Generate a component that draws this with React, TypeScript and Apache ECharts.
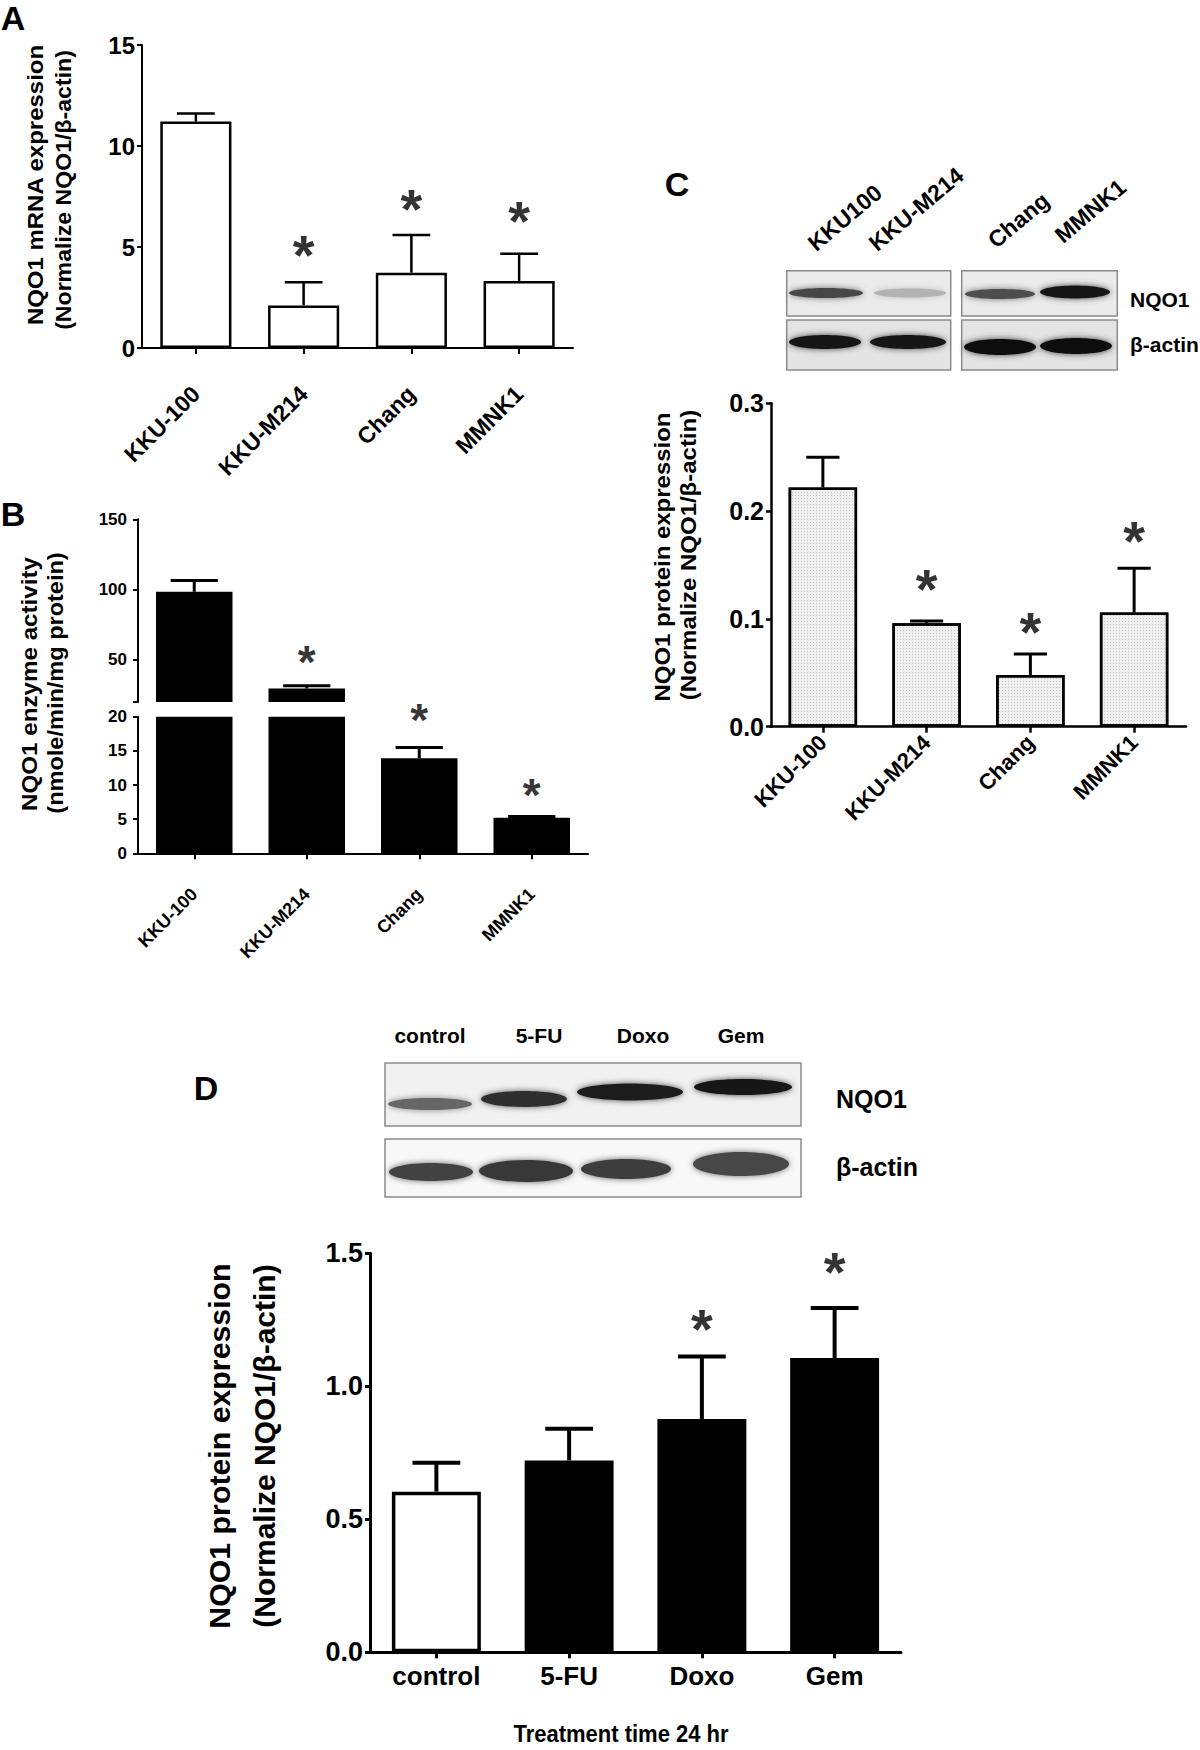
import React, { useEffect, useRef } from 'react';
import * as echarts from 'echarts';

// ---------- data ----------
const cellLines = ['KKU-100', 'KKU-M214', 'Chang', 'MMNK1'];

// Panel A: NQO1 mRNA expression
const mrnaMean = [11.21, 2.11, 3.73, 3.32];
const mrnaSem = [0.4, 1.14, 1.86, 1.34];
const mrnaStar = [null, 5.2, 7.5, 6.9];

// Panel B: NQO1 enzyme activity (broken axis 0-20 / 20-150)
const enzymeMean = [98.4, 29.6, 13.9, 5.2];
const enzymeSem = [8.0, 1.9, 1.6, 0.2];
const enzymeStar = [null, 55.9, 21.0, 10.0];
const enzymeUpperTicks = [20, 50, 100, 150];
const enzymeUpperLabels = [50, 100, 150];

// Panel C: NQO1 protein expression (cell lines)
const proteinMean = [0.222, 0.096, 0.048, 0.106];
const proteinSem = [0.028, 0.002, 0.0195, 0.041];
const proteinStar = [null, 0.139, 0.099, 0.184];

// Panel D: NQO1 protein after treatment
const treatments = ['control', '5-FU', 'Doxo', 'Gem'];
const treatMean = [0.604, 0.721, 0.877, 1.106];
const treatSem = [0.109, 0.119, 0.235, 0.188];
const treatStar = [null, null, 1.263, 1.476];

// Western blot lanes (band darkness 0..1)
const blotCLanes = ['KKU100', 'KKU-M214', 'Chang', 'MMNK1'];
const blotCNqo1 = [0.72, 0.3, 0.7, 0.9];
const blotCActin = [0.93, 0.9, 0.96, 0.95];
const blotDNqo1 = [0.6, 0.82, 0.88, 0.93];
const blotDActin = [0.74, 0.78, 0.76, 0.72];

// ---------- styling / layout ----------
const FONT = "'Liberation Sans', Arial, Helvetica, sans-serif";
const dFill = ['#ffffff', '#000000', '#000000', '#000000'];

const makeErr = (xi: number, yi: number, means: number[], sems: number[], lw: number, capFrac: number, keep: (m: number, e: number) => boolean) => ({
  type: 'custom',
  xAxisIndex: xi,
  yAxisIndex: yi,
  z: 5,
  silent: true,
  clip: false,
  encode: { x: 0, y: 1 },
  data: means.map((m, i) => [i, m, sems[i]]).filter((d) => keep(d[1], d[2])),
  renderItem: (params: any, api: any) => {
    const i = api.value(0);
    const m = api.value(1);
    const e = api.value(2);
    const p0 = api.coord([i, m]);
    const p1 = api.coord([i, m + e]);
    const half = (api.size([1, 0])[0] * capFrac) / 2;
    const style = { stroke: '#000', lineWidth: lw };
    return {
      type: 'group',
      children: [
        { type: 'line', shape: { x1: p0[0], y1: p0[1], x2: p1[0], y2: p1[1] }, style },
        { type: 'line', shape: { x1: p1[0] - half, y1: p1[1], x2: p1[0] + half, y2: p1[1] }, style },
      ],
    };
  },
});

const makeStars = (xi: number, yi: number, stars: (number | null)[], fs: number) => ({
  type: 'scatter',
  xAxisIndex: xi,
  yAxisIndex: yi,
  symbolSize: 1,
  itemStyle: { color: 'rgba(0,0,0,0)' },
  clip: false,
  silent: true,
  z: 6,
  label: {
    show: true,
    position: 'inside',
    formatter: '*',
    fontSize: fs,
    fontWeight: 'bold',
    fontFamily: FONT,
    color: '#000',
    offset: [0, Math.round(fs * 0.21)],
  },
  data: stars.map((s, i) => (s == null ? null : [i, s])).filter((d) => d !== null),
});

const catAxis = (gi: number, data: string[], lw: number, label: any, show = true) => ({
  gridIndex: gi,
  type: 'category',
  data,
  show,
  axisLine: { show: true, onZero: false, lineStyle: { color: '#000', width: lw } },
  axisTick: { show: true, alignWithLabel: true, length: 6, lineStyle: { color: '#000', width: lw } },
  axisLabel: { interval: 0, color: '#000', fontWeight: 'bold', fontFamily: FONT, ...label },
  splitLine: { show: false },
});

const valAxis = (gi: number, lw: number, extra: any, label: any) => ({
  gridIndex: gi,
  type: 'value',
  axisLine: { show: true, lineStyle: { color: '#000', width: lw } },
  axisTick: { show: true, length: 5, lineStyle: { color: '#000', width: lw } },
  splitLine: { show: false },
  axisLabel: { color: '#000', fontWeight: 'bold', fontFamily: FONT, ...label },
  ...extra,
});

const txt = (x: number, y: number, text: string, fs: number, opts: any = {}) => ({
  type: 'text',
  x,
  y,
  silent: true,
  rotation: opts.rotation || 0,
  scaleX: opts.scaleX || 1,
  scaleY: opts.scaleY || 1,
  style: {
    text,
    fill: '#000',
    fontSize: fs,
    fontWeight: opts.weight || 'bold',
    fontFamily: FONT,
    align: opts.align || 'center',
    verticalAlign: 'middle',
  },
});

const gray = (v: number) => {
  const g = Math.round(255 * (1 - v));
  return `rgb(${g},${g},${g})`;
};

const band = (cx: number, cy: number, rx: number, ry: number, dark: number) => ({
  type: 'ellipse',
  silent: true,
  shape: { cx, cy, rx, ry },
  style: { fill: gray(dark), shadowBlur: 6, shadowColor: gray(dark * 0.8) },
});

const box = (x: number, y: number, w: number, h: number, fill: string) => ({
  type: 'rect',
  silent: true,
  shape: { x, y, width: w, height: h },
  style: { fill, stroke: '#8a8a8a', lineWidth: 1.5 },
});

// blot geometry (layout only)
const cNqoGeo = [[826, 293, 37, 5], [910, 293, 36, 4.5], [1000, 294, 35, 5], [1075, 292, 35, 6.5]];
const cActGeo = [[825, 342, 36, 7], [908, 342, 38, 7], [1000, 347, 36, 8], [1076, 346, 36, 8]];
const dNqoGeo = [[430, 1104, 42, 6], [524, 1099, 43, 8], [630, 1092, 53, 8.5], [743, 1087, 49, 8]];
const dActGeo = [[431, 1172, 42, 9], [526, 1171, 47, 11], [626, 1169, 45, 10], [741, 1164, 48, 12]];
const cLabelPos = [[811, 246], [872, 246], [991, 243], [1058, 238]];
const dLabelX = [430, 539, 643, 741];

const graphics: any[] = [
  // panel letters
  txt(13, 18, 'A', 34),
  txt(13, 514, 'B', 34),
  txt(677, 184, 'C', 34),
  txt(206, 1088, 'D', 34),
  // y titles
  txt(35, 185, 'NQO1 mRNA expression', 22, { rotation: Math.PI / 2, scaleX: 1.09 }),
  txt(64, 190, '(Normalize NQO1/β-actin)', 22, { rotation: Math.PI / 2, scaleX: 1.05 }),
  txt(29, 684, 'NQO1 enzyme activity', 22, { rotation: Math.PI / 2, scaleX: 1.1 }),
  txt(55, 683, '(nmole/min/mg protein)', 22, { rotation: Math.PI / 2, scaleX: 1.07 }),
  txt(662, 557, 'NQO1 protein expression', 22, { rotation: Math.PI / 2, scaleX: 1.09 }),
  txt(688, 555, '(Normalize NQO1/β-actin)', 22, { rotation: Math.PI / 2, scaleX: 1.09 }),
  txt(220, 1446, 'NQO1 protein expression', 30, { rotation: Math.PI / 2, scaleX: 1.01 }),
  txt(264, 1446, '(Normalize NQO1/β-actin)', 30, { rotation: Math.PI / 2, scaleX: 1.0 }),
  txt(621, 1734, 'Treatment time 24 hr', 22, { scaleY: 1.05 }),
  // blot C
  box(786.7, 270.7, 164, 45.3, '#ebebeb'),
  box(961.7, 270.7, 155.6, 45.3, '#ebebeb'),
  box(786.7, 320, 164, 50, '#e4e4e4'),
  box(961.7, 320, 155.6, 50, '#e4e4e4'),
  ...cNqoGeo.map((g, i) => band(g[0], g[1], g[2], g[3], blotCNqo1[i])),
  ...cActGeo.map((g, i) => band(g[0], g[1], g[2], g[3], blotCActin[i])),
  ...blotCLanes.map((l, i) => txt(cLabelPos[i][0], cLabelPos[i][1], l, 23, { rotation: (40 * Math.PI) / 180, align: 'left' })),
  txt(1130, 299, 'NQO1', 21, { align: 'left' }),
  txt(1130, 344, 'β-actin', 21, { align: 'left' }),
  // blot D
  box(385, 1063, 416, 63, '#f1f1f1'),
  box(385, 1139, 416, 58, '#f8f8f8'),
  ...dNqoGeo.map((g, i) => band(g[0], g[1], g[2], g[3], blotDNqo1[i])),
  ...dActGeo.map((g, i) => band(g[0], g[1], g[2], g[3], blotDActin[i])),
  ...treatments.map((t, i) => txt(dLabelX[i], 1035, t, 21)),
  txt(836, 1099, 'NQO1', 25, { align: 'left' }),
  txt(836, 1167, 'β-actin', 25, { align: 'left' }),
];

const option: any = {
  animation: false,
  backgroundColor: '#ffffff',
  grid: [
    { left: 142, top: 45, width: 431, height: 303, outerBoundsMode: 'none' },
    { left: 138, top: 519.3, width: 450, height: 182.7, outerBoundsMode: 'none' },
    { left: 138, top: 716.7, width: 450, height: 136.6, outerBoundsMode: 'none' },
    { left: 771, top: 403.3, width: 415, height: 323.4, outerBoundsMode: 'none' },
    { left: 370, top: 1253.3, width: 531, height: 399, outerBoundsMode: 'none' },
  ],
  xAxis: [
    catAxis(0, cellLines, 2, { rotate: 45, fontSize: 23, margin: 42 }),
    catAxis(1, cellLines, 2, {}, false),
    catAxis(2, cellLines, 2, { rotate: 45, fontSize: 18, margin: 38 }),
    catAxis(3, cellLines, 2.5, { rotate: 45, fontSize: 22, margin: 12 }),
    catAxis(4, treatments, 3, { fontSize: 26, margin: 11 }),
  ],
  yAxis: [
    valAxis(0, 2, { min: 0, max: 15, interval: 5 }, { fontSize: 24, margin: 7 }),
    valAxis(
      1,
      2,
      { min: 20, max: 150, axisTick: { show: true, length: 5, lineStyle: { color: '#000', width: 2 }, customValues: enzymeUpperTicks } },
      { fontSize: 17, margin: 11, customValues: enzymeUpperLabels }
    ),
    valAxis(2, 2, { min: 0, max: 20, interval: 5 }, { fontSize: 17, margin: 11 }),
    valAxis(3, 2.5, { min: 0, max: 0.3, interval: 0.1 }, { fontSize: 25, margin: 7, formatter: (v: number) => v.toFixed(1) }),
    valAxis(4, 3, { min: 0, max: 1.5, interval: 0.5 }, { fontSize: 27, margin: 7, formatter: (v: number) => v.toFixed(1) }),
  ],
  series: [
    // A
    {
      type: 'bar', xAxisIndex: 0, yAxisIndex: 0, data: mrnaMean, barWidth: '66%', z: 2,
      itemStyle: { color: '#fff', borderColor: '#000', borderWidth: 2.5 },
    },
    makeErr(0, 0, mrnaMean, mrnaSem, 2.5, 0.35, () => true),
    makeStars(0, 0, mrnaStar, 56),
    // B upper
    {
      type: 'bar', xAxisIndex: 1, yAxisIndex: 1, barWidth: '68%', z: 2, clip: true,
      data: enzymeMean.map((v) => (v > 20 ? v : '-')),
      itemStyle: { color: '#000' },
    },
    makeErr(1, 1, enzymeMean, enzymeSem, 3, 0.42, (m) => m > 20),
    // B lower
    {
      type: 'bar', xAxisIndex: 2, yAxisIndex: 2, barWidth: '68%', z: 2,
      data: enzymeMean.map((v) => Math.min(v, 20)),
      itemStyle: { color: '#000' },
    },
    makeErr(2, 2, enzymeMean, enzymeSem, 3, 0.42, (m, e) => m + e <= 20),
    makeStars(1, 1, enzymeStar.map((s) => (s != null && s > 40 ? s : null)), 46),
    makeStars(2, 2, enzymeStar.map((s) => (s != null && s <= 40 ? s : null)), 46),
    // C
    {
      type: 'bar', xAxisIndex: 3, yAxisIndex: 3, data: proteinMean, barWidth: '66%', z: 2,
      itemStyle: {
        color: '#efefef', borderColor: '#000', borderWidth: 2.5,
        decal: { symbol: 'rect', symbolSize: 1, dashArrayX: [1, 2], dashArrayY: [1, 2], color: 'rgba(0,0,0,0.18)' },
      },
    },
    makeErr(3, 3, proteinMean, proteinSem, 3, 0.32, () => true),
    makeStars(3, 3, proteinStar, 56),
    // D
    {
      type: 'bar', xAxisIndex: 4, yAxisIndex: 4, barWidth: '67%', z: 2,
      data: treatMean.map((v, i) => ({ value: v, itemStyle: { color: dFill[i] } })),
      itemStyle: { borderColor: '#000', borderWidth: 3.5 },
    },
    makeErr(4, 4, treatMean, treatSem, 4, 0.36, () => true),
    makeStars(4, 4, treatStar, 56),
  ],
  graphic: graphics,
};

export default function App() {
  const ref = useRef<HTMLDivElement>(null);
  useEffect(() => {
    if (!ref.current) return;
    const chart = echarts.init(ref.current, null, { renderer: 'svg', width: 1200, height: 1750 });
    chart.setOption(option);
    return () => chart.dispose();
  }, []);
  return (
    <div
      ref={ref}
      style={{ position: 'absolute', left: 0, top: 0, width: 1200, height: 1750, background: '#fff' }}
    />
  );
}
